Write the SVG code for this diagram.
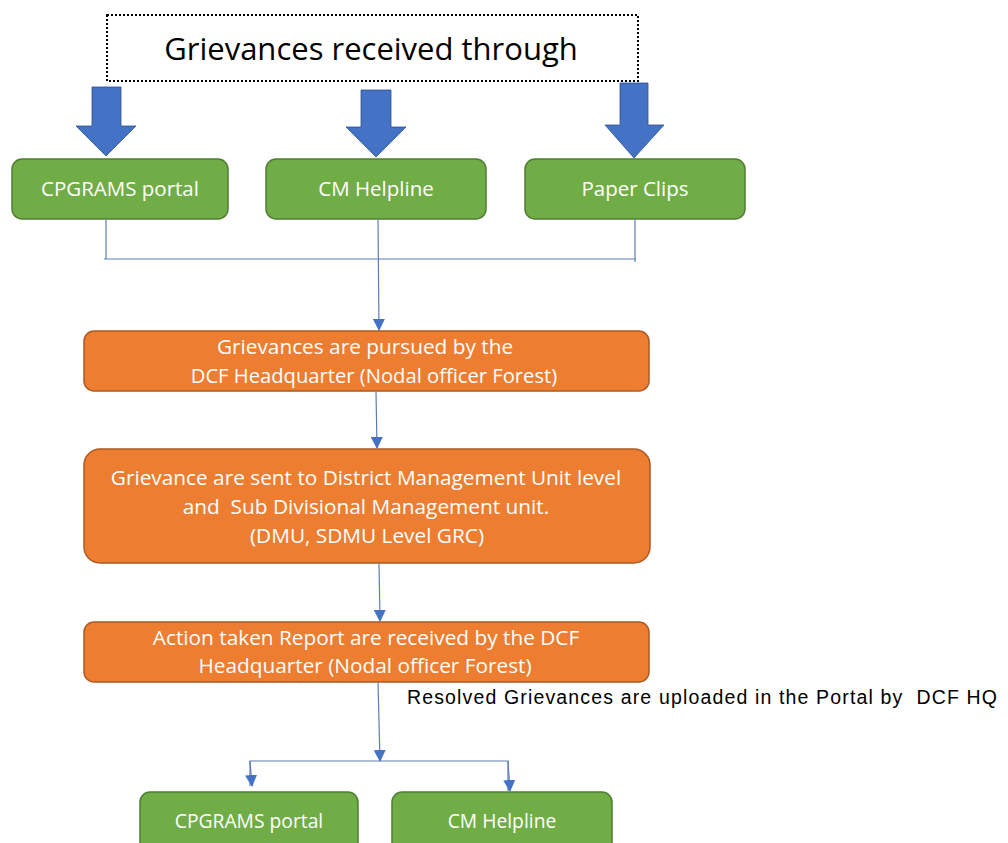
<svg xmlns="http://www.w3.org/2000/svg" width="1008" height="843" viewBox="0 0 1008 843">
<style>
.g{fill:#70AD47;stroke:#507E32;stroke-width:1.5}
.o{fill:#ED7D31;stroke:#AE5A21;stroke-width:1.5}
.bt{fill:#ffffff;font-family:"Open Sans","Liberation Sans",Arial,sans-serif;font-size:20.8px;text-anchor:middle;white-space:pre}
.gt{fill:#ffffff;font-family:"Open Sans","Liberation Sans",Arial,sans-serif;font-size:20.5px;text-anchor:middle}
.gs{font-size:19.3px}
.ln{fill:none;stroke:#5E7DB5;stroke-width:1.2}
.ba{fill:#4472C4;stroke:#2F528F;stroke-width:0.8}
</style>
<defs>
<marker id="ah" viewBox="0 0 12 12" refX="11" refY="6" markerWidth="12" markerHeight="12" markerUnits="userSpaceOnUse" orient="auto">
<path d="M0,0 L12,6 L0,12 Z" fill="#4472C4"/>
</marker>
</defs>
<rect width="1008" height="843" fill="#ffffff"/>
<g id="title">
<rect x="107" y="15" width="531" height="66" fill="#ffffff" stroke="#000000" stroke-width="2" stroke-dasharray="2,2"/>
<text x="371" y="60" font-family="Open Sans,Liberation Sans,Arial,sans-serif" font-size="31" text-anchor="middle" fill="#000000">Grievances received through</text>
</g>
<g id="block-arrows">
<path class="ba" d="M92,87 H121 V126 H136 L106,156 L76,126 H92 Z"/>
<path class="ba" d="M361,90 H391 V127 H406 L376,157 L346,127 H361 Z"/>
<path class="ba" d="M620,83 H648 V125 H664 L634,158 L605,125 H620 Z"/>
</g>
<g id="cpgrams1">
<rect class="g" x="12" y="159" width="216" height="60" rx="10"/>
<text class="gt" x="120" y="196">CPGRAMS portal</text>
</g>
<g id="cmhelpline1">
<rect class="g" x="266" y="159" width="220" height="60" rx="10"/>
<text class="gt" x="376" y="196">CM Helpline</text>
</g>
<g id="paperclips">
<rect class="g" x="525" y="159" width="220" height="60" rx="10"/>
<text class="gt" x="635" y="196">Paper Clips</text>
</g>
<g id="pursued">
<rect class="o" x="84" y="331" width="565" height="60" rx="10"/>
<text class="bt" x="365" y="354">Grievances are pursued by the</text>
<text class="bt" x="374" y="383" style="font-size:20.2px">DCF Headquarter (Nodal officer Forest)</text>
</g>
<g id="sent">
<rect class="o" x="84" y="449" width="566" height="114" rx="16"/>
<text class="bt" x="366" y="485">Grievance are sent to District Management Unit level</text>
<text class="bt" x="366" y="514">and  Sub Divisional Management unit.</text>
<text class="bt" x="367" y="543">(DMU, SDMU Level GRC)</text>
</g>
<g id="atr">
<rect class="o" x="84" y="622" width="565" height="60" rx="10"/>
<text class="bt" x="366" y="645">Action taken Report are received by the DCF</text>
<text class="bt" x="365" y="673">Headquarter (Nodal officer Forest)</text>
</g>
<g id="cpgrams2">
<rect class="g" x="140" y="792" width="218" height="70" rx="10"/>
<text class="gt gs" x="249" y="828">CPGRAMS portal</text>
</g>
<g id="cmhelpline2">
<rect class="g" x="392" y="792" width="220" height="70" rx="10"/>
<text class="gt gs" x="502" y="828">CM Helpline</text>
</g>
<g id="connectors">
<path class="ln" d="M106,219 V259"/>
<path class="ln" d="M635,219 V262"/>
<path class="ln" d="M104,259 H636"/>
<path class="ln" d="M378,219 L379,330" marker-end="url(#ah)"/>
<path class="ln" d="M376,392 L377,448" marker-end="url(#ah)"/>
<path class="ln" d="M379,563 L380,621" marker-end="url(#ah)"/>
<path class="ln" d="M378,682 L380,761" marker-end="url(#ah)"/>
<path class="ln" d="M250,786 V761 H508 V791"/>
<path class="ln" d="M250,761 L252,786" marker-end="url(#ah)"/>
<path class="ln" d="M508,761 L510,791" marker-end="url(#ah)"/>
<text x="407" y="704" font-family="Liberation Sans,Arial,sans-serif" font-size="19.5" fill="#000000" textLength="590" lengthAdjust="spacing" style="white-space:pre">Resolved Grievances are uploaded in the Portal by  DCF HQ</text>
</g>
</svg>
